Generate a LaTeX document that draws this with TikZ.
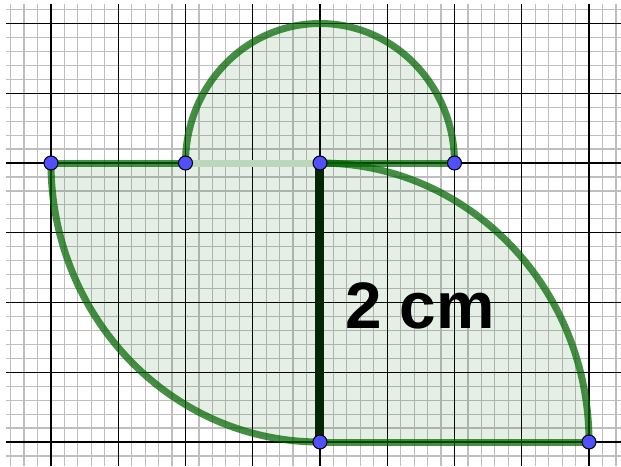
\documentclass[tikz,border=0pt]{standalone}
\usepackage{fontspec}
\setmainfont{Liberation Sans}
\definecolor{minorgrid}{RGB}{190,190,190}
\definecolor{shapegreen}{RGB}{0,100,0}
\definecolor{palegreen}{RGB}{188,216,188}
\definecolor{darkseg}{RGB}{5,38,5}
\definecolor{ptblue}{RGB}{80,80,255}
\tikzset{
  minorline/.style={draw=minorgrid, line width=1.2pt},
  majorline/.style={draw=black, line width=1.4pt},
  region/.style={fill=shapegreen, fill opacity=0.1, draw=none},
  rim/.style={draw=shapegreen, draw opacity=0.72, line width=7pt, line cap=round, line join=round},
  palerim/.style={draw=palegreen, line width=7pt},
  heightseg/.style={draw=darkseg, line width=9pt},
  ptdot/.style={circle, fill=ptblue, draw=black, line width=1pt, minimum size=14pt, inner sep=0pt},
  lbl/.style={inner sep=0pt, anchor=base west, font=\bfseries\fontsize{65.7}{70}\selectfont}
}
\begin{document}
\begin{tikzpicture}[x=67.25pt, y=69.75pt]
\useasboundingbox (-4.75836,-4.34409) rectangle (4.47584,2.33692);
% grid
\foreach \k in {-23,...,22} \draw[minorline] (\k/5,-4.34409) -- (\k/5,2.2796);
\foreach \k in {-21,...,11} \draw[minorline] (-4.669,\k/5) -- (4.47584,\k/5);
\foreach \k in {-4,...,4} \draw[majorline] (\k,-4.34409) -- (\k,2.2796);
\foreach \k in {-4,...,2} \draw[majorline] (-4.669,\k) -- (4.47584,\k);
% points
\coordinate (A) at (-4,0);
\coordinate (B) at (-2,0);
\coordinate (C) at (0,0);
\coordinate (D) at (2,0);
\coordinate (E) at (0,-4);
\coordinate (F) at (4,-4);
% fills
\fill[region] (B) arc[start angle=180, end angle=0, radius=2] -- cycle;
\fill[region] (C) -- (A) arc[start angle=180, end angle=270, radius=4] -- cycle;
\fill[region] (E) -- (C) arc[start angle=90, end angle=0, radius=4] -- cycle;
% outlines
\draw[rim] (B) arc[start angle=180, end angle=0, radius=2];
\draw[rim] (C) -- (D);
\draw[rim] (A) -- (B);
\draw[rim] (A) arc[start angle=180, end angle=270, radius=4];
\draw[rim] (E) -- (F);
\draw[rim] (C) arc[start angle=90, end angle=0, radius=4];
\draw[palerim] (B) -- (C);
\draw[heightseg] (C) -- (E);
% label
\node[lbl] (len) at (0.372,-2.366) {2 cm};
% point markers
\foreach \p in {A,B,C,D,E,F} \node[ptdot] (dot\p) at (\p) {};
\end{tikzpicture}
\end{document}
